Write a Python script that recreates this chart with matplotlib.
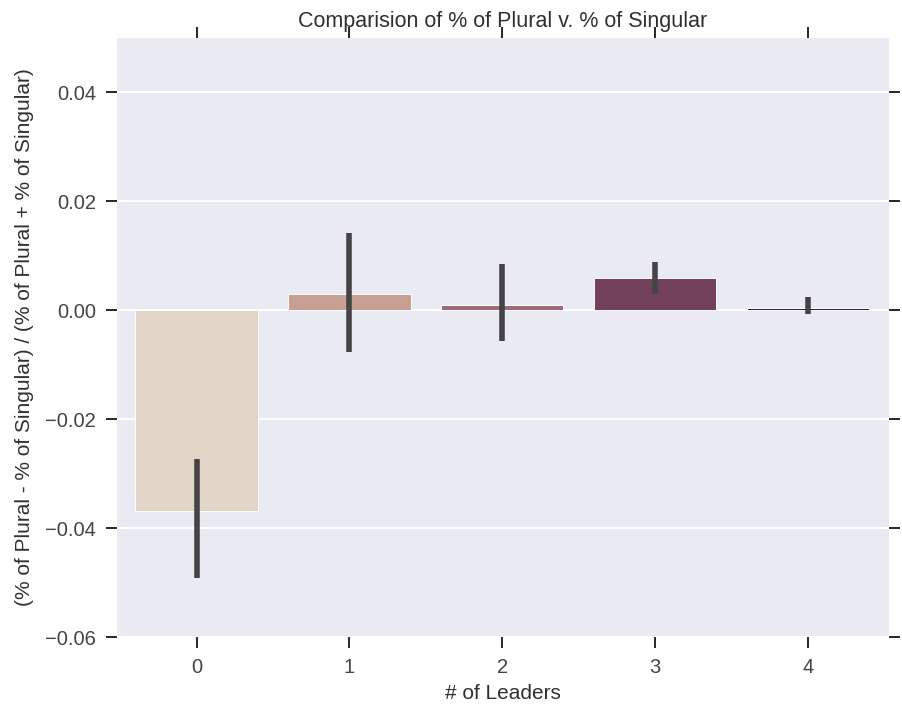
import matplotlib.pyplot as plt
import numpy as np

plt.rcParams['font.family'] = ['Liberation Sans', 'DejaVu Sans']

# data
leaders = ['0', '1', '2', '3', '4']
ratio_mean = [-0.0369, 0.0029, 0.0010, 0.0059, 0.0005]
ci_low = [-0.0492, -0.0077, -0.0057, 0.0029, -0.0006]
ci_high = [-0.0273, 0.0142, 0.0085, 0.0088, 0.0024]
bar_colors = ['#e0d5c6', '#c8a093', '#9e6b78', '#73405c', '#2e1e3b']

fig = plt.figure(figsize=(9.03, 7.09), dpi=100)
ax = fig.add_axes([0.1296, 0.1015, 0.855, 0.845])
ax.set_facecolor('#eaeaf2')
for s in ax.spines.values():
    s.set_visible(False)

x = np.arange(len(leaders))
ax.set_axisbelow(True)
ax.grid(axis='y', color='white', lw=1.4)
ax.bar(x, ratio_mean, width=0.8, color=bar_colors, edgecolor='white', lw=0.7)
ax.vlines(x, ci_low, ci_high, color='#444444', lw=4)

ax.set_xlim(-0.52, 4.53)
ax.set_ylim(-0.06, 0.05)
ax.set_yticks([-0.06, -0.04, -0.02, 0.00, 0.02, 0.04])
ax.set_yticklabels(['\u22120.06', '\u22120.04', '\u22120.02', '0.00', '0.02', '0.04'])
ax.set_xticks(x)
ax.set_xticklabels(leaders)
ax.tick_params(which='major', direction='out', length=8, width=1.4, color='#262626',
               labelcolor='#444444', labelsize=14.5, pad=7,
               top=True, right=True, labeltop=False, labelright=False)

ax.set_title('Comparision of % of Plural v. % of Singular', fontsize=15.5, color='#303030', pad=8)
ax.set_xlabel('# of Leaders', fontsize=15, color='#303030', labelpad=5)
ax.set_ylabel('(% of Plural - % of Singular) / (% of Plural + % of Singular)', fontsize=15,
              color='#303030', labelpad=8)

fig.savefig('out.png', dpi=100)
